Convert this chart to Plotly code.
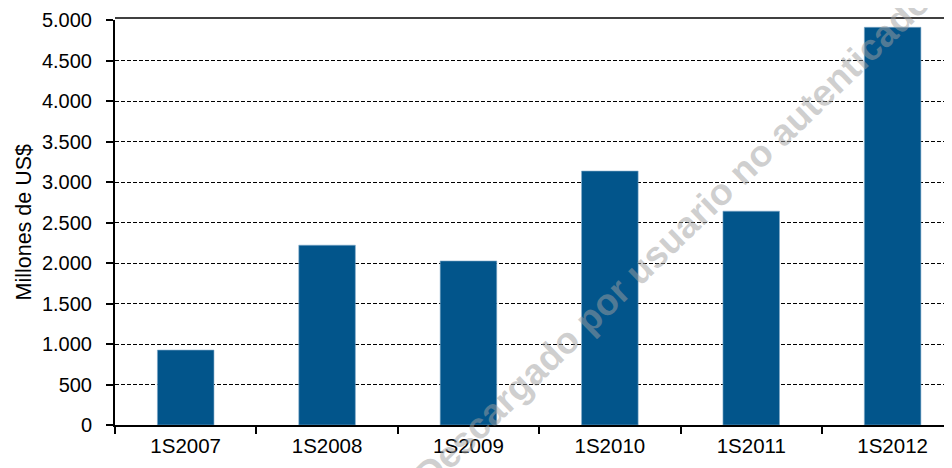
import plotly.graph_objects as go

categories = ["1S2007", "1S2008", "1S2009", "1S2010", "1S2011", "1S2012"]
values = [925, 2220, 2025, 3135, 2640, 4910]
y_ticks = [0, 500, 1000, 1500, 2000, 2500, 3000, 3500, 4000, 4500, 5000]
y_title = "Millones de US$"
watermark = "Descargado por usuario no autenticado"

# page body has an 8px default margin, so the figure is laid out 8px in
OFF = 8
W, H = 960, 468 - OFF
L, R, T, B = 115 - OFF, 16, 20 - OFF, 43
FONT = "Liberation Sans, Arial, sans-serif"
PW, PH = W - L - R, H - T - B

fig = go.Figure()
fig.add_trace(go.Bar(
    x=categories, y=values,
    marker=dict(color="#02558B", line=dict(color="#7fa9c9", width=0.6)),
    width=0.4,
))

fig.update_layout(
    width=W, height=H,
    margin=dict(l=L, r=R, t=T, b=B, autoexpand=False),
    paper_bgcolor="white", plot_bgcolor="white",
    showlegend=False,
    separators=",.",
    font=dict(family=FONT, size=20, color="black"),
)

fig.update_xaxes(
    type="category",
    range=[-0.5, 5.42],
    showline=True, linecolor="black", linewidth=2,
    ticks="outside", ticklen=7, tickwidth=1.5, tickcolor="black",
    tickson="boundaries",
    showgrid=False,
    tickfont=dict(size=20.5, family=FONT, color="black"),
    ticklabelstandoff=1,
)

fig.update_yaxes(
    range=[0, 5000],
    tickvals=y_ticks,
    tickformat=",.0f",
    separatethousands=True,
    showline=True, linecolor="black", linewidth=2,
    ticks="outside", ticklen=7, tickwidth=1.5, tickcolor="black",
    showgrid=True, gridcolor="black", gridwidth=1, griddash="4px,2px",
    zeroline=False,
    tickfont=dict(size=20, family=FONT, color="black"),
    ticklabelstandoff=10,
)

# top border of plot area
fig.add_shape(type="line", xref="paper", yref="paper", x0=0, x1=1, y0=1.005, y1=1.005,
              line=dict(color="black", width=1.5))

# y-axis title
fig.add_annotation(
    text=y_title, xref="paper", yref="paper",
    x=-(115 - 23) / PW, y=0.5,
    xanchor="center", yanchor="middle",
    textangle=-90, showarrow=False,
    font=dict(size=21.5, family=FONT, color="black"),
)

# watermark (centre at reference pixel ~ (672, 238))
fig.add_annotation(
    text="<b>" + watermark + "</b>", xref="paper", yref="paper",
    x=(672 - 115) / PW, y=(425 - 238) / PH,
    xanchor="center", yanchor="middle",
    textangle=-44, showarrow=False,
    font=dict(size=37, family=FONT, color="rgba(160,160,160,0.5)"),
)

fig.write_html("out.html")
